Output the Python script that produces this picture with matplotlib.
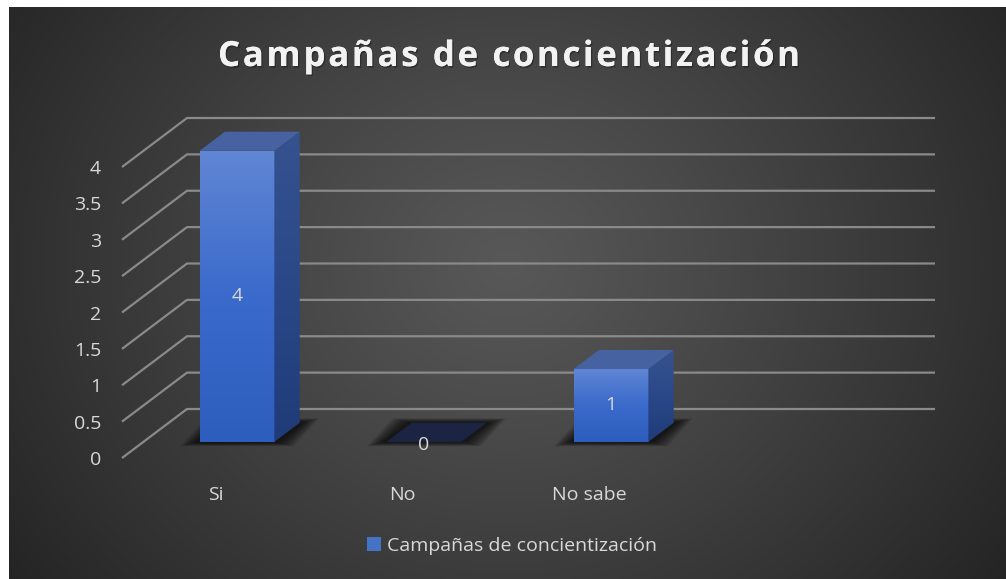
import numpy as np
import matplotlib.pyplot as plt
from matplotlib.patches import Polygon, Patch
from matplotlib.colors import LinearSegmentedColormap
import matplotlib.patheffects as pe

# datos del grafico
categorias = ['Si', 'No', 'No sabe']
valores = [4, 0, 1]
serie = 'Campañas de concientización'
titulo = 'Campañas de concientización'
ticks_y = [0, 0.5, 1, 1.5, 2, 2.5, 3, 3.5, 4]

plt.rcParams['font.family'] = ['Open Sans', 'DejaVu Sans']

W, H = 1006, 579
fig = plt.figure(figsize=(W / 100, H / 100), dpi=100)
fig.patch.set_facecolor('white')

# fondo oscuro con degradado radial
bg = fig.add_axes([9 / W, 0, 1 - 9 / W, (H - 7) / H])
yy, xx = np.mgrid[0:1:300j, 0:1:520j]
r = np.sqrt(((xx - 0.5) / 0.62) ** 2 + ((yy - 0.55) / 0.95) ** 2)
gris = (88 - 52 * np.clip(r, 0, 1) ** 1.1) / 255.0
bg.imshow(np.dstack([gris, gris, gris]), aspect='auto', extent=[0, 1, 0, 1], origin='lower')
bg.set_axis_off()

# ejes del plano frontal
ax = fig.add_axes([122 / W, (H - 458) / H, 748 / W, 291 / H])
ax.patch.set_alpha(0)
n_cat = 4
kx = 65 / 187.0    # desplazamiento de profundidad en unidades de datos
ky = 49 / 72.75
t0, t1 = 0.33, 0.72
ancho = 0.4
px_x = n_cat / 748.0   # un pixel en unidades de datos
px_y = 4 / 291.0

# lineas de cuadricula con perspectiva
for v in ticks_y:
    ax.plot([0, kx, n_cat + kx], [v, v + ky, v + ky], color='#8a8a8a', lw=1.6,
            clip_on=False, zorder=1, solid_capstyle='butt')

frente = LinearSegmentedColormap.from_list('frente', ['#2d5dbd', '#3a6acb', '#6086d4'])
lado = LinearSegmentedColormap.from_list('lado', ['#1f3c78', '#2a4888', '#36528f'])
grad = np.linspace(0, 1, 100).reshape(-1, 1)

for i, v in enumerate(valores):
    xc = i + 0.5
    x0, x1 = xc - ancho / 2, xc + ancho / 2

    # sombra difusa en el piso
    for k in range(12):
        ex = (4 + 1.4 * k) * px_x
        ey = (0.5 + 0.35 * k) * px_y
        sh = Polygon([(x0 + t0 * kx - ex, t0 * ky - ey),
                      (x1 + t0 * kx + ex, t0 * ky - ey),
                      (x1 + t1 * kx + ex, t1 * ky + ey),
                      (x0 + t1 * kx - ex, t1 * ky + ey)],
                     closed=True, facecolor='black', edgecolor='none', alpha=0.08,
                     clip_on=False, zorder=2)
        ax.add_patch(sh)

    if v > 0:
        # cara frontal
        ax.imshow(grad, cmap=frente, aspect='auto', origin='lower',
                  extent=[x0 + t0 * kx, x1 + t0 * kx, t0 * ky, v + t0 * ky],
                  zorder=4, clip_on=False)
        # cara lateral
        pl = Polygon([(x1 + t0 * kx, t0 * ky), (x1 + t1 * kx, t1 * ky),
                      (x1 + t1 * kx, v + t1 * ky), (x1 + t0 * kx, v + t0 * ky)],
                     closed=True, facecolor='none', edgecolor='none', zorder=4,
                     clip_on=False)
        ax.add_patch(pl)
        im2 = ax.imshow(grad, cmap=lado, aspect='auto', origin='lower',
                        extent=[x1 + t0 * kx, x1 + t1 * kx, t0 * ky, v + t1 * ky],
                        zorder=4)
        im2.set_clip_box(fig.bbox)
        im2.set_clip_path(pl)
        color_tapa = '#4662a0'
    else:
        color_tapa = '#1b2442'

    # tapa superior
    tapa = Polygon([(x0 + t0 * kx, v + t0 * ky), (x1 + t0 * kx, v + t0 * ky),
                    (x1 + t1 * kx, v + t1 * ky), (x0 + t1 * kx, v + t1 * ky)],
                   closed=True, facecolor=color_tapa, edgecolor='none',
                   clip_on=False, zorder=5)
    ax.add_patch(tapa)

    ax.text(xc + t0 * kx, v / 2 + t0 * ky - (0.04 if v == 0 else 0), '{:g}'.format(v),
            ha='center', va='center', color='#d9d9d9', fontsize=14, zorder=6)

ax.set_xlim(0, n_cat)
ax.set_ylim(0, 4)
ax.set_yticks(ticks_y)
ax.set_yticklabels(['{:g}'.format(t) for t in ticks_y])
ax.set_xticks([i + 0.5 for i in range(len(categorias))])
ax.set_xticklabels(categorias)
ax.tick_params(axis='y', colors='#d9d9d9', length=0, pad=15, labelsize=14)
ax.tick_params(axis='x', colors='#d9d9d9', length=0, pad=20, labelsize=14)
for s in ax.spines.values():
    s.set_visible(False)

# titulo con espaciado entre letras
renderer = fig.canvas.get_renderer()
estilo = dict(fontsize=25, fontweight='bold', color='#f2f2f2')
sombra = [pe.withSimplePatchShadow(offset=(1, -1.2), shadow_rgbFace='black', alpha=0.3),
          pe.Normal()]


def ancho_txt(s):
    t = fig.text(0, 0, s, **estilo)
    w = t.get_window_extent(renderer).width
    t.remove()
    return w


anchos = [ancho_txt('a' + c + 'a') - ancho_txt('aa') for c in titulo]
ancho_total = 582
esp = (ancho_total - sum(anchos)) / (len(titulo) - 1)
x = 218.0
for c, w in zip(titulo, anchos):
    fig.text(x / W, 1 - 66 / H, c, ha='left', va='baseline', path_effects=sombra, **estilo)
    x += w + esp

# leyenda
fig.legend(handles=[Patch(facecolor='#4472c4', edgecolor='none', label=serie)],
           loc='center', bbox_to_anchor=(512 / W, 1 - 546 / H), frameon=False,
           handlelength=0.75, handleheight=0.75, handletextpad=0.3,
           labelcolor='#d9d9d9', fontsize=14)

fig.savefig('out.png', dpi=100)
